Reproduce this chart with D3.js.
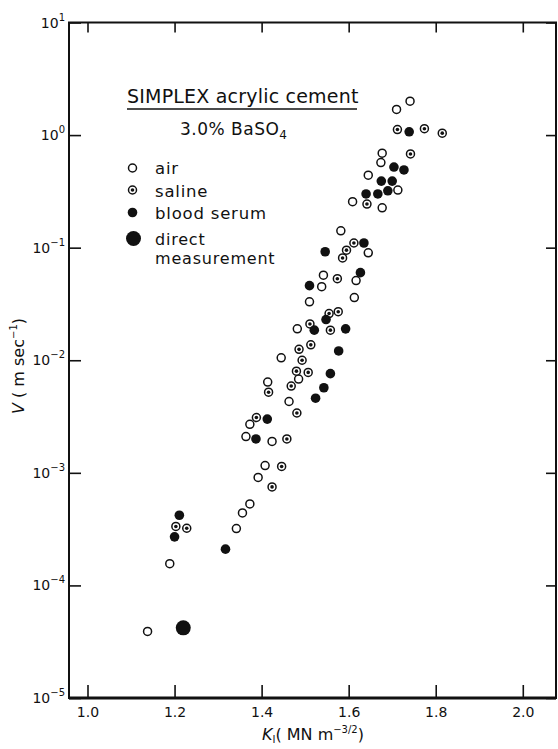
<!DOCTYPE html>
<html>
<head>
<meta charset="utf-8">
<script src="https://cdn.jsdelivr.net/npm/d3@7"></script>
<style>
  body { margin: 0; background: #fff; }
  text { font-family: "DejaVu Sans", sans-serif; fill: #111; }
</style>
</head>
<body>
<svg id="chart" width="558" height="749"></svg>
<script>
// tick values
const xTicks = [1.0, 1.2, 1.4, 1.6, 1.8, 2.0];
const yExps = [1, 0, -1, -2, -3, -4, -5];

// air (open circles)
const airK = [1.741, 1.710, 1.677, 1.674, 1.645, 1.713, 1.677, 1.609, 1.645, 1.582,
              1.617, 1.542, 1.538, 1.510, 1.613, 1.482, 1.445, 1.485, 1.463, 1.414,
              1.373, 1.364, 1.424, 1.408, 1.392, 1.373, 1.356, 1.342, 1.189, 1.138];
const airV = [2.0, 1.69, 0.69, 0.57, 0.44, 0.325, 0.226, 0.256, 0.090, 0.141,
              0.051, 0.057, 0.045, 0.033, 0.036, 0.019, 0.0105, 0.0068, 0.0043, 0.0064,
              0.0027, 0.0021, 0.0019, 0.00116, 0.00091, 0.00053, 0.00044, 0.00032, 0.000156, 0.000039];

// saline (dotted circles)
const salineK = [1.712, 1.774, 1.815, 1.742, 1.642, 1.612, 1.595, 1.586, 1.574, 1.555,
                 1.576, 1.511, 1.558, 1.513, 1.486, 1.493, 1.480, 1.507, 1.468, 1.416,
                 1.481, 1.388, 1.458, 1.446, 1.424, 1.203, 1.228];
const salineV = [1.12, 1.14, 1.04, 0.68, 0.244, 0.110, 0.095, 0.081, 0.053, 0.026,
                 0.027, 0.021, 0.0185, 0.0137, 0.0125, 0.0100, 0.0080, 0.0078, 0.0059, 0.0052,
                 0.0034, 0.0031, 0.0020, 0.00114, 0.00075, 0.000334, 0.000322];

// blood serum (filled)
const serumK = [1.739, 1.704, 1.727, 1.675, 1.700, 1.640, 1.667, 1.690, 1.635, 1.546,
                1.627, 1.510, 1.548, 1.521, 1.593, 1.577, 1.558, 1.543, 1.524, 1.413,
                1.387, 1.211, 1.200, 1.317];
const serumV = [1.07, 0.52, 0.49, 0.39, 0.39, 0.30, 0.30, 0.32, 0.110, 0.092,
                0.060, 0.046, 0.023, 0.0185, 0.019, 0.0121, 0.0076, 0.0057, 0.0046, 0.0030,
                0.0020, 0.00042, 0.00027, 0.00021];

// direct measurement (large filled)
const directK = [1.220];
const directV = [0.000042];

const svg = d3.select("#chart");
const pLeft = 69, pRight = 556, pTop = 22.5, pBottom = 698;

const x = d3.scaleLinear().domain([0.9575, 2.0763]).range([pLeft, pRight]);
const y = d3.scaleLog().domain([1e-5, 10]).range([pBottom, pTop]);

const yVals = yExps.map(e => Math.pow(10, e));

// ticks (all pointing inward)
const gb = svg.append("g").attr("transform", `translate(0,${pBottom})`)
  .call(d3.axisBottom(x).tickValues(xTicks).tickSize(-13).tickPadding(9)
    .tickFormat(d3.format(".1f")));
gb.selectAll("text").attr("font-size", 14).attr("font-family", "DejaVu Sans").attr("fill", "#111");

svg.append("g").attr("transform", `translate(0,${pTop})`)
  .call(d3.axisTop(x).tickValues(xTicks).tickSize(-10).tickFormat(""));
svg.append("g").attr("transform", `translate(${pLeft},0)`)
  .call(d3.axisLeft(y).tickValues(yVals).tickSize(-12).tickFormat(""));
svg.append("g").attr("transform", `translate(${pRight},0)`)
  .call(d3.axisRight(y).tickValues(yVals).tickSize(-10).tickFormat(""));

svg.selectAll(".domain").remove();
svg.selectAll(".tick line").attr("stroke", "#111").attr("stroke-width", 1.6);

// frame
svg.append("rect")
  .attr("x", pLeft).attr("y", pTop)
  .attr("width", pRight - pLeft).attr("height", pBottom - pTop)
  .attr("fill", "none").attr("stroke", "#111").attr("stroke-width", 2);
svg.append("line")
  .attr("x1", pLeft).attr("x2", pRight).attr("y1", pBottom).attr("y2", pBottom)
  .attr("stroke", "#111").attr("stroke-width", 3);

// y tick labels 10^n
yExps.forEach(e => {
  const t = svg.append("text")
    .attr("x", pLeft - 4).attr("y", y(Math.pow(10, e)) + 5)
    .attr("text-anchor", "end").attr("font-size", 14);
  t.append("tspan").text("10");
  t.append("tspan").attr("font-size", 10).attr("dy", -7)
    .text(e < 0 ? "\u2212" + (-e) : String(e));
});

// axis titles
const xt = svg.append("text").attr("x", 262).attr("y", 740).attr("font-size", 16);
xt.append("tspan").attr("font-style", "italic").text("K");
xt.append("tspan").attr("font-size", 10).attr("dy", 3).text("I");
xt.append("tspan").attr("dy", -3).text("( MN m");
xt.append("tspan").attr("font-size", 10).attr("dy", -7).text("\u22123/2");
xt.append("tspan").attr("dy", 7).text(")");

const yt = svg.append("text").attr("transform", "translate(24,366) rotate(-90)")
  .attr("text-anchor", "middle").attr("font-size", 16);
yt.append("tspan").attr("font-style", "italic").text("V");
yt.append("tspan").text(" ( m sec");
yt.append("tspan").attr("font-size", 10).attr("dy", -7).text("\u22121");
yt.append("tspan").attr("dy", 7).text(")");

// data
const air = airK.map((k, i) => ({k: k, v: airV[i]}));
const saline = salineK.map((k, i) => ({k: k, v: salineV[i]}));
const serum = serumK.map((k, i) => ({k: k, v: serumV[i]}));
const direct = directK.map((k, i) => ({k: k, v: directV[i]}));

const pts = svg.append("g");

pts.selectAll(".air").data(air).enter().append("circle")
  .attr("cx", d => x(d.k)).attr("cy", d => y(d.v)).attr("r", 4)
  .attr("fill", "#fff").attr("stroke", "#111").attr("stroke-width", 1.5);

const sg = pts.selectAll(".sal").data(saline).enter().append("g");
sg.append("circle")
  .attr("cx", d => x(d.k)).attr("cy", d => y(d.v)).attr("r", 4)
  .attr("fill", "#fff").attr("stroke", "#111").attr("stroke-width", 1.5);
sg.append("circle")
  .attr("cx", d => x(d.k)).attr("cy", d => y(d.v)).attr("r", 1.8)
  .attr("fill", "#111");

pts.selectAll(".ser").data(serum).enter().append("circle")
  .attr("cx", d => x(d.k)).attr("cy", d => y(d.v)).attr("r", 4.8)
  .attr("fill", "#111");

pts.selectAll(".dir").data(direct).enter().append("circle")
  .attr("cx", d => x(d.k)).attr("cy", d => y(d.v)).attr("r", 7.5)
  .attr("fill", "#111");

// legend block
svg.append("text").attr("x", 127).attr("y", 103).attr("font-size", 19)
  .attr("letter-spacing", 0.2).text("SIMPLEX acrylic cement");
svg.append("line").attr("x1", 127).attr("x2", 357).attr("y1", 109).attr("y2", 109)
  .attr("stroke", "#111").attr("stroke-width", 1.3);
const sub = svg.append("text").attr("x", 180).attr("y", 135).attr("font-size", 17)
  .attr("letter-spacing", 0.5);
sub.append("tspan").text("3.0% BaSO");
sub.append("tspan").attr("font-size", 12).attr("dy", 4).text("4");

const lg = svg.append("g").attr("font-size", 16.5);
lg.append("circle").attr("cx", 132.5).attr("cy", 168).attr("r", 4)
  .attr("fill", "#fff").attr("stroke", "#111").attr("stroke-width", 1.5);
lg.append("text").attr("x", 155).attr("y", 173.5).attr("letter-spacing", 0.8).text("air");
lg.append("circle").attr("cx", 132.5).attr("cy", 190).attr("r", 4)
  .attr("fill", "#fff").attr("stroke", "#111").attr("stroke-width", 1.5);
lg.append("circle").attr("cx", 132.5).attr("cy", 190).attr("r", 1.8).attr("fill", "#111");
lg.append("text").attr("x", 155).attr("y", 196.5).attr("letter-spacing", 0.8).text("saline");
lg.append("circle").attr("cx", 132.5).attr("cy", 212.5).attr("r", 4.8).attr("fill", "#111");
lg.append("text").attr("x", 155).attr("y", 218.5).attr("letter-spacing", 0.8).text("blood serum");
lg.append("circle").attr("cx", 133.5).attr("cy", 238.5).attr("r", 7.5).attr("fill", "#111");
lg.append("text").attr("x", 155).attr("y", 245).attr("font-size", 16)
  .attr("letter-spacing", 0.8).text("direct");
lg.append("text").attr("x", 155).attr("y", 264).attr("font-size", 16)
  .attr("letter-spacing", 0.8).text("measurement");
</script>
</body>
</html>
